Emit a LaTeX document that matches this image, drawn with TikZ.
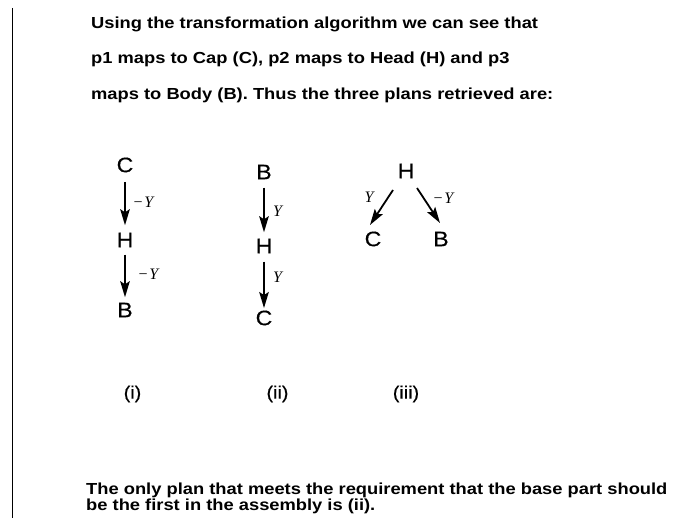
\documentclass[tikz,border=0pt]{standalone}
\usepackage{fontspec}
\setmainfont{Liberation Sans}
\newfontfamily\txtfont[FakeStretch=1.145]{Liberation Sans}
\newfontfamily\lblfont[FakeStretch=1.1,FakeBold=0.4]{Liberation Sans}
\newfontfamily\yfont{Liberation Serif}
\usetikzlibrary{arrows.meta}
\begin{document}
\begin{tikzpicture}[x=1pt,y=-1pt,
  txt/.style={anchor=base west, inner sep=0pt, font=\txtfont\bfseries\fontsize{16}{19}\selectfont},
  part/.style={inner sep=0pt, outer sep=0pt, font=\lblfont\fontsize{21}{24}\selectfont},
  ylab/.style={inner sep=0pt, font=\yfont\itshape\fontsize{16}{18}\selectfont},
  plan/.style={inner sep=0pt, font=\lblfont\fontsize{18}{20}\selectfont},
  arr/.style={line width=1.8pt, -{Stealth[length=16pt,width=9.5pt,inset=3pt]}},
  rule/.style={line width=1.3pt}]
\useasboundingbox (0,0) rectangle (694,518);
% left margin rule
\coordinate (rtop) at (12.7,8);
\coordinate (rbot) at (12.7,518);
\draw[rule] (rtop) -- (rbot);
% top text
\node[txt] (t1) at (91,28.5) {Using the transformation algorithm we can see that};
\node[txt] (t2) at (91,64) {p1 maps to Cap (C), p2 maps to Head (H) and p3};
\node[txt] (t3) at (91,99.5) {maps to Body (B). Thus the three plans retrieved are:};
% plan (i)
\node[part] (c1) at (125,165) {C};
\node[part] (h1) at (125,240) {H};
\node[part] (bb1) at (125,310) {B};
\draw[arr, shorten <=9.5pt, shorten >=7.5pt] (c1) -- (h1);
\draw[arr, shorten <=7.5pt, shorten >=5.5pt] (h1) -- (bb1);
\node[ylab] (y1a) at (143,202) {−\kern1pt Y};
\node[ylab] (y1b) at (148,274) {−\kern1pt Y};
% plan (ii)
\node[part] (bb2) at (264,172) {B};
\node[part] (h2) at (264,246) {H};
\node[part] (c2) at (264,318) {C};
\draw[arr, shorten <=8.5pt, shorten >=6.5pt] (bb2) -- (h2);
\draw[arr, shorten <=8.5pt, shorten >=2.5pt] (h2) -- (c2);
\node[ylab] (y2a) at (277.5,211) {Y};
\node[ylab] (y2b) at (277.5,277) {Y};
% plan (iii)
\node[part] (h3) at (406,171) {H};
\node[part] (c3) at (373,239) {C};
\node[part] (bb3) at (441,239) {B};
\draw[arr] ([xshift=-13pt,yshift=-19pt]h3.center) -- ([xshift=-3pt,yshift=14pt]c3.center);
\draw[arr] ([xshift=11pt,yshift=-17pt]h3.center) -- ([xshift=-1pt,yshift=16pt]bb3.center);
\node[ylab] (y3a) at (369,197) {Y};
\node[ylab] (y3b) at (443,198) {−\kern1pt Y};
% plan labels
\node[plan] (p1) at (132.5,394) {(i)};
\node[plan] (p2) at (277.5,394) {(ii)};
\node[plan] (p3) at (406,394) {(iii)};
% bottom text
\node[txt] (s1) at (86,495) {The only plan that meets the requirement that the base part should};
\node[txt] (s2) at (86,511) {be the first in the assembly is (ii).};
\end{tikzpicture}
\end{document}
